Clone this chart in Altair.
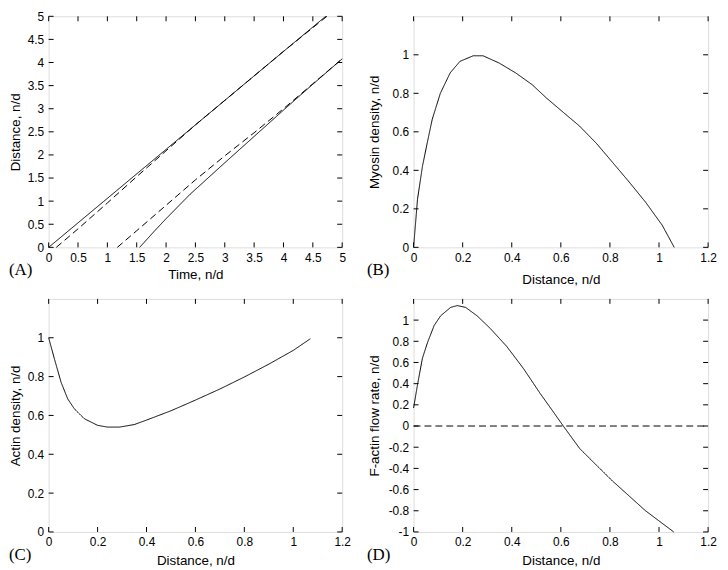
import altair as alt
import pandas as pd

# ---------------- data ----------------
# Panel A: distance vs time (two solid, two dashed trajectories)
a_t_solid1 = [0, 1.0, 2.0, 3.0, 4.0, 4.72]
a_d_solid1 = [0, 1.06, 2.12, 3.18, 4.24, 5.0]
a_t_dash1 = [0.13, 0.5, 1.0, 1.5, 2.0, 2.5, 3.0, 4.0, 4.74]
a_d_dash1 = [0, 0.40, 0.96, 1.53, 2.09, 2.65, 3.18, 4.24, 5.0]
a_t_solid2 = [1.55, 1.8, 2.0, 2.41, 3.0, 3.5, 4.0, 4.5, 5.0]
a_d_solid2 = [0, 0.35, 0.62, 1.15, 1.83, 2.40, 2.97, 3.53, 4.08]
a_t_dash2 = [1.17, 1.5, 2.0, 2.5, 3.0, 3.5, 4.0, 4.5, 5.0]
a_d_dash2 = [0, 0.36, 0.91, 1.46, 1.98, 2.48, 3.0, 3.54, 4.08]

# Panel B: myosin density
b_x = [0, 0.016, 0.036, 0.056, 0.076, 0.109, 0.149, 0.189, 0.243, 0.283, 0.349,
       0.416, 0.483, 0.541, 0.611, 0.676, 0.745, 0.811, 0.878, 0.945, 1.013, 1.062]
b_y = [0, 0.25, 0.42, 0.545, 0.665, 0.80, 0.906, 0.966, 0.995, 0.995, 0.957,
       0.906, 0.845, 0.776, 0.70, 0.63, 0.54, 0.441, 0.34, 0.235, 0.115, 0]

# Panel C: actin density
c_x = [0, 0.024, 0.051, 0.078, 0.105, 0.146, 0.2, 0.24, 0.29, 0.35, 0.4, 0.5,
       0.6, 0.7, 0.8, 0.9, 1.0, 1.07]
c_y = [1.0, 0.889, 0.77, 0.685, 0.634, 0.583, 0.549, 0.54, 0.54, 0.553, 0.576, 0.624,
       0.679, 0.736, 0.798, 0.864, 0.935, 0.995]

# Panel D: F-actin flow rate
d_x = [0, 0.016, 0.036, 0.057, 0.084, 0.11, 0.151, 0.178, 0.212, 0.259, 0.313, 0.38,
       0.447, 0.515, 0.575, 0.61, 0.676, 0.745, 0.811, 0.878, 0.945, 0.999, 1.06]
d_y = [0.17, 0.39, 0.64, 0.79, 0.95, 1.04, 1.12, 1.137, 1.12, 1.04, 0.92, 0.75,
       0.545, 0.31, 0.115, 0, -0.21, -0.37, -0.52, -0.66, -0.80, -0.894, -1.0]
d_zero_x = [0, 1.2]
d_zero_y = [0, 0]

# ticks
a_ticks = [0, 0.5, 1, 1.5, 2, 2.5, 3, 3.5, 4, 4.5, 5]
dist_ticks = [0, 0.2, 0.4, 0.6, 0.8, 1, 1.2]
dens_ticks = [0, 0.2, 0.4, 0.6, 0.8, 1]
flow_ticks = [-1, -0.8, -0.6, -0.4, -0.2, 0, 0.2, 0.4, 0.6, 0.8, 1]

FONT = "Liberation Sans"
LABEL_EXPR = "replace(format(datum.value, '~g'), '\u2212', '-')"
TICK_LEN = 5


def x_axis(vals, title, title_y):
    return alt.Axis(values=vals, title=title, labelExpr=LABEL_EXPR, ticks=False,
                    domain=False, grid=False, labelPadding=5, labelFlush=False,
                    labelOverlap=False, labelFont=FONT, labelFontSize=12,
                    labelColor="black", titleFont=FONT, titleFontSize=13.5,
                    titleFontWeight="normal", titleColor="black",
                    titleY=title_y, titleBaseline="alphabetic")


def y_axis(vals, title, title_x):
    return alt.Axis(values=vals, title=title, labelExpr=LABEL_EXPR, ticks=False,
                    domain=False, grid=False, labelPadding=5, labelFlush=False,
                    labelOverlap=False, labelFont=FONT, labelFontSize=12,
                    labelColor="black", titleFont=FONT, titleFontSize=13.5,
                    titleFontWeight="normal", titleColor="black",
                    titleX=title_x, titleBaseline="alphabetic")


def build_lines(series):
    rows = []
    for k, (xs_, ys_, dashed) in enumerate(series):
        for i, (xv, yv) in enumerate(zip(xs_, ys_)):
            rows.append({"x": xv, "y": yv, "i": i, "series": f"s{k}",
                         "dash": "dashed" if dashed else "solid"})
    return pd.DataFrame(rows)


def panel(series, xdom, ydom, xvals, yvals, xtitle, ytitle, title_y, title_x,
          label, label_dx, W, H):
    xs = alt.Scale(domain=xdom, nice=False, zero=False)
    ys = alt.Scale(domain=ydom, nice=False, zero=False)
    xa = x_axis(xvals, xtitle, title_y)
    ya = y_axis(yvals, ytitle, title_x)
    lines = alt.Chart(build_lines(series)).mark_line(color="black", strokeWidth=1).encode(
        x=alt.X("x:Q", scale=xs, axis=xa),
        y=alt.Y("y:Q", scale=ys, axis=ya),
        detail="series:N",
        order="i:Q",
        strokeDash=alt.StrokeDash("dash:N", legend=None,
                                  scale=alt.Scale(domain=["solid", "dashed"],
                                                  range=[[1, 0], [7, 4]])))
    layers = [lines]
    # inward tick marks on all four sides (MATLAB-style box)
    xr = xdom[1] - xdom[0]
    yr = ydom[1] - ydom[0]
    dy = TICK_LEN / H * yr
    dx = TICK_LEN / W * xr
    bot = pd.DataFrame({"x": xvals, "y0": [ydom[0]] * len(xvals), "y1": [ydom[0] + dy] * len(xvals)})
    top = pd.DataFrame({"x": xvals, "y0": [ydom[1]] * len(xvals), "y1": [ydom[1] - dy] * len(xvals)})
    lft = pd.DataFrame({"y": yvals, "x0": [xdom[0]] * len(yvals), "x1": [xdom[0] + dx] * len(yvals)})
    rgt = pd.DataFrame({"y": yvals, "x0": [xdom[1]] * len(yvals), "x1": [xdom[1] - dx] * len(yvals)})
    for df in (bot, top):
        layers.append(alt.Chart(df).mark_rule(color="black", strokeWidth=1).encode(
            x=alt.X("x:Q", scale=xs, axis=None),
            y=alt.Y("y0:Q", scale=ys, axis=None), y2=alt.Y2("y1:Q")))
    for df in (lft, rgt):
        layers.append(alt.Chart(df).mark_rule(color="black", strokeWidth=1).encode(
            y=alt.Y("y:Q", scale=ys, axis=None),
            x=alt.X("x0:Q", scale=xs, axis=None), x2=alt.X2("x1:Q")))
    layers.append(alt.Chart(pd.DataFrame({"t": [label]})).mark_text(
        font="Liberation Serif", fontSize=17, align="left", baseline="middle",
        color="black").encode(text="t:N", x=alt.value(label_dx), y=alt.value(H + 23)))
    return alt.layer(*layers).resolve_axis(x="independent", y="independent").properties(
        width=W, height=H)


pA = panel([(a_t_solid1, a_d_solid1, False), (a_t_dash1, a_d_dash1, True),
            (a_t_solid2, a_d_solid2, False), (a_t_dash2, a_d_dash2, True)],
           [0, 5], [0, 5], a_ticks, a_ticks, "Time, n/d", "Distance, n/d",
           31, -29, "(A)", -40, 296, 233)
pB = panel([(b_x, b_y, False)], [0, 1.2], [0, 1.2], dist_ticks, dens_ticks,
           "Distance, n/d", "Myosin density, n/d", 36, -35, "(B)", -47, 297, 233)
pC = panel([(c_x, c_y, False)], [0, 1.2], [0, 1.2], dist_ticks, dens_ticks,
           "Distance, n/d", "Actin density, n/d", 33, -29, "(C)", -40, 296, 235)
pD = panel([(d_x, d_y, False), (d_zero_x, d_zero_y, True)], [0, 1.2], [-1, 1.2],
           dist_ticks, flow_ticks, "Distance, n/d", "F-actin flow rate, n/d",
           33, -35, "(D)", -47, 297, 235)

chart = alt.concat(pA, pB, pC, pD, columns=2, spacing={"row": 52, "column": 72},
                   bounds="flush").properties(
    autosize=alt.AutoSizeParams(type="none"),
    padding={"left": 41, "top": 6, "right": 677, "bottom": 556},
).configure_view(stroke="black", strokeWidth=1).configure(background="white")

chart.save("out.html", embed_options={"renderer": "svg", "actions": False})
